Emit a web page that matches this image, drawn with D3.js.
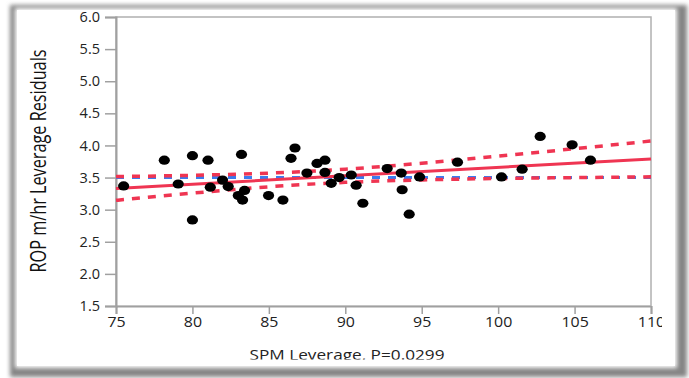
<!DOCTYPE html>
<html>
<head>
<meta charset="utf-8">
<script src="https://cdn.jsdelivr.net/npm/d3@7"></script>
<style>
body { margin: 0; background: #fff; }
svg { display: block; }
text { font-family: "Open Sans", sans-serif; fill: #222; }
</style>
</head>
<body>
<script>
var w = 689, h = 378;

// leverage points
var spm = [75.5, 78.16, 80.0, 81.02, 83.21, 79.07, 81.17, 81.97, 82.34, 83.41, 83.0, 83.28, 80.0,
	84.98, 85.92, 86.71, 86.45, 88.15, 88.67, 87.49, 88.67, 89.08, 89.6, 90.39, 90.71, 91.15,
	92.74, 93.66, 93.72, 94.18, 94.86, 97.34, 100.22, 101.57, 102.75, 104.84, 106.04];
var rop = [3.37, 3.77, 3.84, 3.77, 3.86, 3.40, 3.35, 3.46, 3.36, 3.30, 3.22, 3.15, 2.84,
	3.22, 3.15, 3.96, 3.80, 3.72, 3.77, 3.57, 3.58, 3.41, 3.50, 3.54, 3.38, 3.10,
	3.64, 3.57, 3.31, 2.93, 3.51, 3.74, 3.51, 3.63, 4.14, 4.01, 3.77];

// fit line, confidence curves and mean line
var fitX = [75, 110];
var fitY = [3.33, 3.79];
var bandX = [75, 80, 85, 90, 95, 100, 105, 110];
var bandUp = [3.515, 3.535, 3.569, 3.630, 3.723, 3.833, 3.949, 4.069];
var bandLo = [3.145, 3.257, 3.356, 3.425, 3.463, 3.485, 3.499, 3.511];
var meanY = 3.50;

var xTicks = [75, 80, 85, 90, 95, 100, 105, 110];
var yTicks = [1.5, 2.0, 2.5, 3.0, 3.5, 4.0, 4.5, 5.0, 5.5, 6.0];

var red = "#ef3552", blue = "#3b7bef";

var svg = d3.select("body").append("svg")
	.attr("width", w)
	.attr("height", h);

var defs = svg.append("defs");
defs.append("filter").attr("id", "blur")
	.attr("x", "-5%").attr("y", "-5%").attr("width", "110%").attr("height", "110%")
	.append("feGaussianBlur").attr("stdDeviation", 2.2);
defs.append("clipPath").attr("id", "clipX")
	.append("rect").attr("x", 0).attr("y", 0).attr("width", 662).attr("height", 361);
defs.append("clipPath").attr("id", "clipT")
	.append("rect").attr("x", 0).attr("y", 0).attr("width", 662).attr("height", 359.5);

// frame with shadow
svg.append("rect")
	.attr("x", 10).attr("y", 5).attr("width", 677).attr("height", 372)
	.style("fill", "#858585")
	.attr("filter", "url(#blur)");
svg.append("rect")
	.attr("x", 15).attr("y", 8).attr("width", 662).attr("height", 360)
	.style("fill", "#fff")
	.attr("filter", "url(#blur)");
svg.append("rect")
	.attr("x", 17).attr("y", 10).attr("width", 658).attr("height", 356)
	.style("fill", "#fff");

var x = d3.scaleLinear().domain([75, 110]).range([116, 651]);
var y = d3.scaleLinear().domain([1.5, 6]).range([306, 17]);

// plot box
svg.append("rect")
	.attr("x", x(75)).attr("y", y(6))
	.attr("width", x(110) - x(75)).attr("height", y(1.5) - y(6))
	.style("fill", "none")
	.style("stroke", "#b0b0b0")
	.style("stroke-width", 1.5);

var yAxis = svg.append("g")
	.attr("transform", "translate(" + x(75) + ",0)")
	.call(d3.axisLeft(y).tickValues(yTicks).tickFormat(d3.format(".1f")).tickSize(11).tickPadding(4));
var xAxis = svg.append("g")
	.attr("transform", "translate(0," + y(1.5) + ")")
	.attr("clip-path", "url(#clipX)")
	.call(d3.axisBottom(x).tickValues(xTicks).tickSize(8).tickPadding(3));

svg.selectAll(".domain").style("stroke", "#a0a0a0").style("stroke-width", 2);
svg.selectAll(".tick line").style("stroke", "#a0a0a0").style("stroke-width", 1.5);
svg.selectAll(".tick text").style("font-size", "14.5px").style("fill", "#222")
	.attr("transform", "scale(1.1,1)");
yAxis.selectAll(".tick text").attr("transform", null).attr("x", -16);
xAxis.selectAll(".tick text").attr("y", 11);

// mean line
svg.append("line")
	.attr("x1", x(75)).attr("x2", x(110))
	.attr("y1", y(meanY)).attr("y2", y(meanY))
	.style("stroke", blue)
	.style("stroke-width", 3)
	.style("stroke-dasharray", "8,8");

var bandLine = d3.line().curve(d3.curveMonotoneX)
	.x(function(d, i) { return x(bandX[i]); })
	.y(function(d) { return y(d); });

svg.append("path")
	.attr("d", bandLine(bandUp))
	.style("fill", "none").style("stroke", red)
	.style("stroke-width", 3.5).style("stroke-dasharray", "8,8");
svg.append("path")
	.attr("d", bandLine(bandLo))
	.style("fill", "none").style("stroke", red)
	.style("stroke-width", 3.5).style("stroke-dasharray", "8,8");

svg.append("line")
	.attr("x1", x(fitX[0])).attr("x2", x(fitX[1]))
	.attr("y1", y(fitY[0])).attr("y2", y(fitY[1]))
	.style("stroke", red)
	.style("stroke-width", 3);

svg.append("g").selectAll("ellipse")
	.data(spm)
	.enter()
	.append("ellipse")
	.attr("cx", function(d) { return x(d); })
	.attr("cy", function(d, i) { return y(rop[i]); })
	.attr("rx", 5.6)
	.attr("ry", 4.6)
	.style("fill", "#000");

// titles
svg.append("text")
	.attr("transform", "translate(46,161) rotate(-90) scale(1,1.25)")
	.attr("text-anchor", "middle")
	.attr("textLength", 223)
	.attr("lengthAdjust", "spacingAndGlyphs")
	.style("font-size", "17px")
	.style("fill", "#111")
	.text("ROP m/hr Leverage Residuals");

svg.append("g").attr("clip-path", "url(#clipT)")
	.append("text")
	.attr("x", 347).attr("y", 360)
	.attr("text-anchor", "middle")
	.attr("textLength", 195)
	.attr("lengthAdjust", "spacingAndGlyphs")
	.style("font-size", "14px")
	.style("fill", "#222")
	.text("SPM Leverage, P=0.0299");
</script>
</body>
</html>
